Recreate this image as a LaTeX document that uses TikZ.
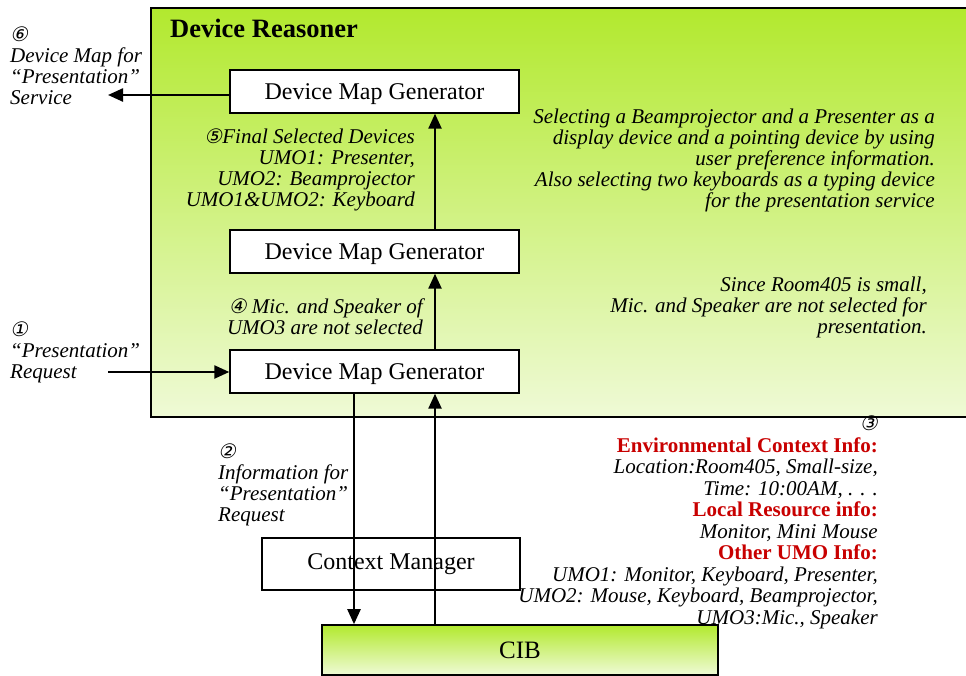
\documentclass[tikz,border=0pt]{standalone}
\usepackage{fontspec}
\setmainfont{Liberation Serif}
\newfontfamily\circfont[FakeSlant=0.2]{DejaVu Sans}
\usetikzlibrary{arrows.meta}
\definecolor{lime}{RGB}{178,233,46}
\definecolor{pale}{RGB}{239,250,214}
\definecolor{infored}{RGB}{200,0,0}
\newcommand{\cnum}[1]{{\circfont\fontsize{20}{20}\selectfont #1}}
\newcommand{\infohead}[1]{{\color{infored}\bfseries\upshape #1}}
\begin{document}
\begin{tikzpicture}[x=1pt,y=-1pt,
  gen/.style={draw,line width=1.4pt,fill=white,minimum width=289pt,minimum height=43pt,inner sep=0pt,text depth=0pt,font=\fontsize{24}{26}\selectfont},
  greenbox/.style={draw,line width=1.6pt,top color=lime,bottom color=pale,inner sep=0pt},
  arr/.style={line width=2.4pt,-{Triangle[length=15pt,width=13pt]}},
  note/.style={inner sep=0pt,font=\fontsize{21}{21}\selectfont\itshape}
]
\useasboundingbox (0,0) rectangle (966,675);

% Device Reasoner panel
\node[greenbox,anchor=north west,minimum width=830pt,minimum height=409pt] (reasoner) at (150,7) {};
\node[anchor=west,inner sep=0pt,font=\fontsize{26.5}{28}\selectfont\bfseries] (title) at (170,28) {Device Reasoner};

% generator stages
\node[gen] (dmgA) at (374.5,91.5) {Device Map Generator};
\node[gen] (dmgB) at (374.5,251.5) {Device Map Generator};
\node[gen] (dmgC) at (374.5,371.5) {Device Map Generator};

% context manager and CIB
\node[draw,line width=1.4pt,fill=white,minimum width=258pt,minimum height=52pt,inner sep=0pt,font=\fontsize{24}{26}\selectfont] (ctx) at (391,564) {Context Manager};
\node[greenbox,minimum width=396pt,minimum height=50pt,font=\fontsize{25}{26}\selectfont] (cib) at (520,650) {CIB};

% free arrow ends and vertical arrow columns
\coordinate (outA) at (108,95);
\coordinate (inC) at (108,372);
\coordinate (downx) at (354,0);
\coordinate (upx) at (435,0);

% connectors
\draw[arr] (dmgA.west |- outA) -- (outA);
\draw[arr] (inC) -- (dmgC.west |- inC);
\draw[arr] (dmgB.north -| upx) -- (dmgA.south -| upx);
\draw[arr] (dmgC.north -| upx) -- (dmgB.south -| upx);
\draw[arr] (dmgC.south -| downx) -- (cib.north -| downx);
\draw[arr] (cib.north -| upx) -- (dmgC.south -| upx);

% annotations
\node[note,anchor=north west,align=left] (n6) at (10,27)
  {\cnum{⑥}\\Device Map for\\“Presentation”\\Service};
\node[note,anchor=north west,align=left] (n1) at (10,322)
  {\cnum{①}\\“Presentation”\\Request};
\node[note,anchor=north west,align=left] (n2) at (218,444)
  {\cnum{②}\\Information for\\“Presentation”\\Request};
\node[note,anchor=north east,align=right] (n5) at (415,129)
  {\cnum{⑤}Final Selected Devices\\UMO1: Presenter,\\UMO2: Beamprojector\\UMO1\&UMO2: Keyboard};
\node[note,anchor=north east,align=right] (n4) at (423,299)
  {\cnum{④} Mic. and Speaker of\\UMO3 are not selected};
\node[note,anchor=north east,align=right] (sel) at (935,109)
  {Selecting a Beamprojector and a Presenter as a\\display device and a pointing device by using\\user preference information.\\Also selecting two keyboards as a typing device\\for the presentation service};
\node[note,anchor=north east,align=right] (room) at (927,277)
  {Since Room405 is small,\\Mic. and Speaker are not selected for\\presentation.};
\node[note,anchor=north east,align=right,font=\fontsize{21}{21.5}\selectfont\itshape] (n3) at (878,416)
  {\cnum{③}\\\infohead{Environmental Context Info:}\\Location:Room405, Small-size,\\Time: 10:00AM, . . .\\\infohead{Local Resource info:}\\Monitor, Mini Mouse\\\infohead{Other UMO Info:}\\UMO1: Monitor, Keyboard, Presenter,\\UMO2: Mouse, Keyboard, Beamprojector,\\UMO3:Mic., Speaker};
\end{tikzpicture}
\end{document}
